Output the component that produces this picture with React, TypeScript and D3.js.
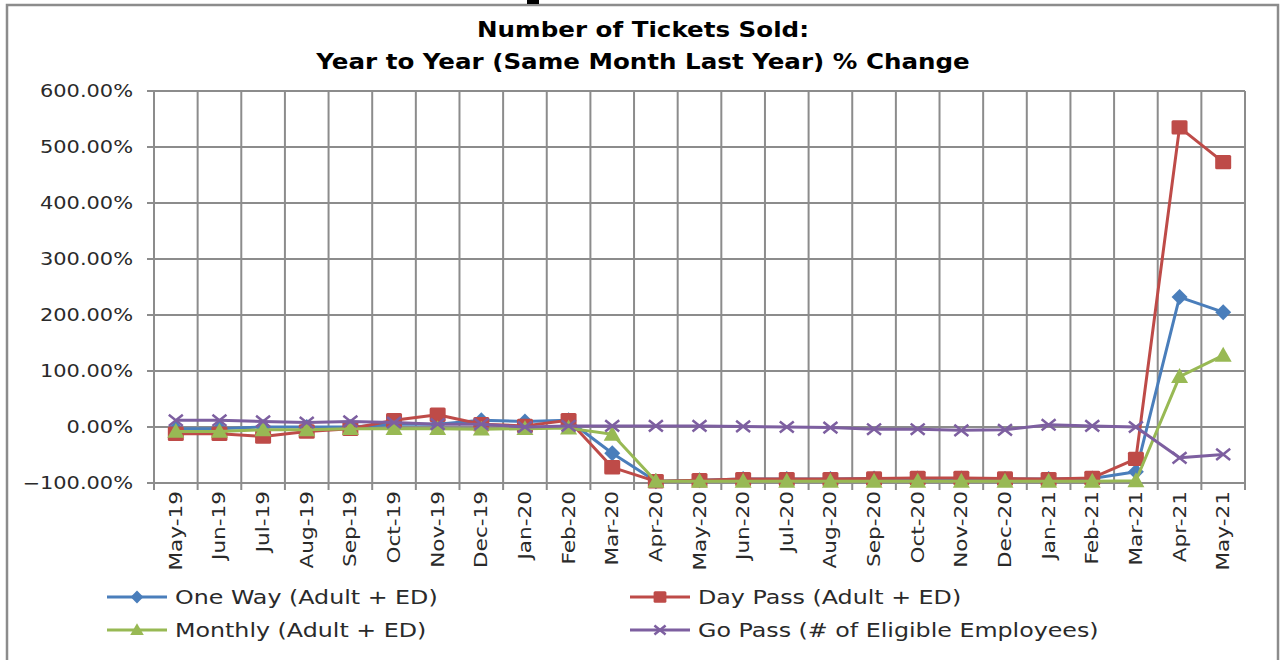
import { useEffect, useRef } from 'react';
import * as d3 from 'd3';

const months = [
  'May-19', 'Jun-19', 'Jul-19', 'Aug-19', 'Sep-19', 'Oct-19', 'Nov-19', 'Dec-19',
  'Jan-20', 'Feb-20', 'Mar-20', 'Apr-20', 'May-20', 'Jun-20', 'Jul-20', 'Aug-20',
  'Sep-20', 'Oct-20', 'Nov-20', 'Dec-20', 'Jan-21', 'Feb-21', 'Mar-21', 'Apr-21', 'May-21',
];

const oneWay = [-3, -3, 0, 0, 0, 5, 5, 12, 10, 12, -47, -97, -95, -93, -93, -93, -92, -92, -92, -93, -93, -92, -80, 232, 205];
const dayPass = [-12, -12, -17, -8, -3, 12, 22, 5, 2, 12, -72, -97, -95, -93, -93, -93, -92, -91, -91, -92, -93, -91, -57, 535, 473];
const monthly = [-8, -8, -5, -5, -3, -3, -3, -4, -3, -2, -13, -97, -97, -97, -97, -97, -97, -97, -97, -97, -97, -97, -96, 90, 128];
const goPass = [12, 12, 10, 8, 10, 8, 5, 5, 0, 2, 2, 2, 2, 1, 0, -1, -4, -4, -6, -5, 4, 2, 0, -55, -49];

const yTicks = [600, 500, 400, 300, 200, 100, 0, -100];

const seriesNames = [
  'One Way (Adult + ED)',
  'Day Pass (Adult + ED)',
  'Monthly (Adult + ED)',
  'Go Pass (# of Eligible Employees)',
];

const FONT = "'DejaVu Sans', Verdana, sans-serif";

export default function App() {
  const svgRef = useRef<SVGSVGElement>(null);

  useEffect(() => {
    if (!svgRef.current) return;
    const svg = d3.select(svgRef.current);
    svg.selectAll('*').remove();

    const left = 154, right = 1245, top = 91, bottom = 483;

    // outer frame
    svg.append('rect')
      .attr('x', 7).attr('y', 5).attr('width', 1271).attr('height', 670)
      .attr('fill', '#fff').attr('stroke', '#8c8c8c').attr('stroke-width', 2.5);
    svg.append('rect').attr('x', 527).attr('y', 0).attr('width', 12).attr('height', 4).attr('fill', '#000');

    // wide text helper (the original font is a wide geometric face)
    const wideText = (
      parent: d3.Selection<any, unknown, null, undefined>,
      tx: number, ty: number, str: string, size: number, sx: number,
      opts: { anchor?: string; bold?: boolean; rotate?: number } = {}
    ) => {
      const rot = opts.rotate ? ` rotate(${opts.rotate})` : '';
      parent.append('text')
        .attr('transform', `translate(${tx},${ty})${rot} scale(${sx},1)`)
        .attr('text-anchor', opts.anchor || 'start')
        .attr('font-family', FONT)
        .attr('font-weight', opts.bold ? 'bold' : 'normal')
        .attr('font-size', size)
        .attr('fill', opts.bold ? '#000' : '#2a2a2a')
        .text(str);
    };

    // title
    wideText(svg, 643, 37, 'Number of Tickets Sold:', 21, 1.17, { anchor: 'middle', bold: true });
    wideText(svg, 643, 69, 'Year to Year (Same Month Last Year) % Change', 21, 1.17, { anchor: 'middle', bold: true });

    const x = d3.scaleBand<string>().domain(months).range([left, right]);
    const y = d3.scaleLinear().domain([-100, 600]).range([bottom, top]);
    const cx = (m: string) => (x(m) as number) + x.bandwidth() / 2;

    const g = svg.append('g');

    // horizontal gridlines + y labels
    yTicks.forEach(t => {
      g.append('line')
        .attr('x1', left - 7).attr('x2', right)
        .attr('y1', y(t)).attr('y2', y(t))
        .attr('stroke', '#8c8c8c').attr('stroke-width', 2);
      wideText(g, 133, y(t) + 6, d3.format('.2f')(t) + '%', 17, 1.23, { anchor: 'end' });
    });

    // vertical gridlines at category boundaries
    const bounds = months.map(m => x(m) as number).concat([right]);
    bounds.forEach(b => {
      g.append('line')
        .attr('x1', b).attr('x2', b)
        .attr('y1', top).attr('y2', bottom + 7)
        .attr('stroke', '#8c8c8c').attr('stroke-width', 2);
    });

    // x labels
    months.forEach(m => {
      wideText(g, cx(m) + 6, 491, m, 17, 1.27, { anchor: 'end', rotate: -90 });
    });

    const colors = ['#4a7ebb', '#be4b48', '#98b954', '#7d5fa0'];
    const data = [oneWay, dayPass, monthly, goPass];

    const line = d3.line<number>()
      .x((_, i) => cx(months[i]))
      .y(d => y(d));

    const drawMarker = (sel: d3.Selection<SVGGElement, unknown, null, undefined>, k: number, px: number, py: number, s = 1) => {
      const c = colors[k];
      if (k === 0) {
        const r = 8 * s;
        sel.append('path')
          .attr('d', `M${px},${py - r}L${px + r},${py}L${px},${py + r}L${px - r},${py}Z`)
          .attr('fill', c);
      } else if (k === 1) {
        const r = 8 * s;
        sel.append('rect')
          .attr('x', px - r).attr('y', py - r * 0.9).attr('width', 2 * r).attr('height', 1.8 * r)
          .attr('rx', 1.5)
          .attr('fill', c);
      } else if (k === 2) {
        const r = 8.5 * s;
        sel.append('path')
          .attr('d', `M${px},${py - r}L${px + r},${py + r * 0.75}L${px - r},${py + r * 0.75}Z`)
          .attr('fill', c);
      } else {
        const r = 7 * s;
        sel.append('path')
          .attr('d', `M${px - r},${py - r * 0.8}L${px + r},${py + r * 0.8}M${px + r},${py - r * 0.8}L${px - r},${py + r * 0.8}`)
          .attr('stroke', c).attr('stroke-width', 2.5).attr('fill', 'none');
      }
    };

    data.forEach((vals, k) => {
      g.append('path')
        .datum(vals)
        .attr('fill', 'none')
        .attr('stroke', colors[k])
        .attr('stroke-width', 3)
        .attr('stroke-linejoin', 'round')
        .attr('d', line);
      const mg = g.append('g');
      vals.forEach((v, i) => drawMarker(mg, k, cx(months[i]), y(v)));
    });

    // legend
    const legendPos = [
      { x: 107, y: 597 },
      { x: 630, y: 597 },
      { x: 107, y: 630 },
      { x: 630, y: 630 },
    ];
    legendPos.forEach((p, k) => {
      const lg = svg.append('g');
      lg.append('line')
        .attr('x1', p.x).attr('x2', p.x + 60)
        .attr('y1', p.y).attr('y2', p.y)
        .attr('stroke', colors[k]).attr('stroke-width', 3);
      drawMarker(lg, k, p.x + 30, p.y, 0.8);
      wideText(lg, p.x + 68, p.y + 7, seriesNames[k], 19, 1.25);
    });
  }, []);

  return (
    <svg
      ref={svgRef}
      width={1281}
      height={660}
      style={{ position: 'absolute', left: 0, top: 0, display: 'block', background: '#fff' }}
    />
  );
}
